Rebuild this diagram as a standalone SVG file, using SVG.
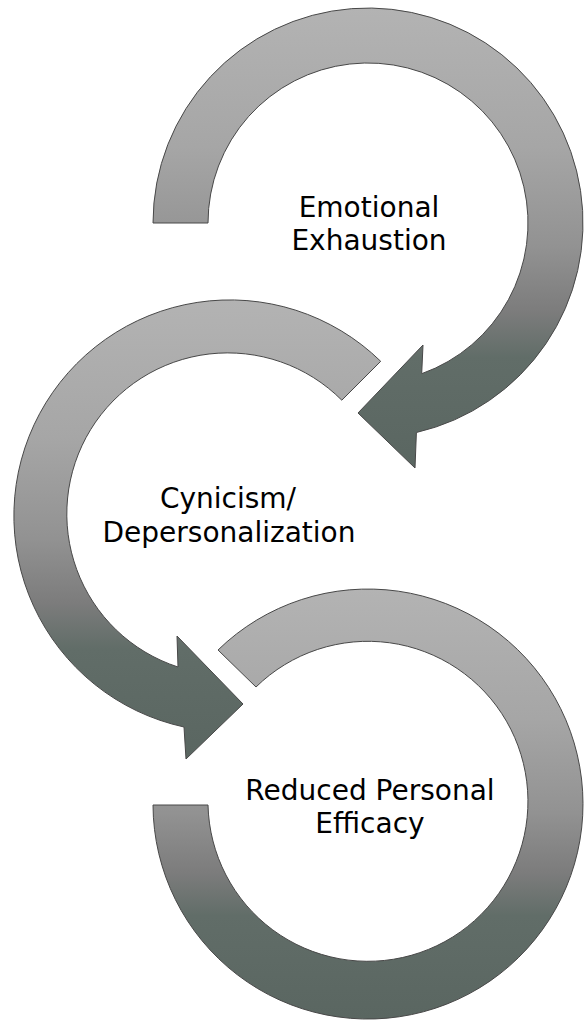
<svg xmlns="http://www.w3.org/2000/svg" width="584" height="1021" viewBox="0 0 584 1021">
  <defs>
    <linearGradient id="g" x1="0" y1="0" x2="0" y2="1">
      <stop offset="0" stop-color="#b3b3b3"/>
      <stop offset="0.3" stop-color="#a6a6a6"/>
      <stop offset="0.52" stop-color="#929292"/>
      <stop offset="0.66" stop-color="#7c7c7c"/>
      <stop offset="0.76" stop-color="#616d68"/>
      <stop offset="1" stop-color="#5a6661"/>
    </linearGradient>
  </defs>
  <style>
    .ring { fill: url(#g); stroke: #484848; stroke-width: 1; stroke-linejoin: miter; }
    .lbl { font-family: "DejaVu Sans", "Liberation Sans", sans-serif; font-size: 28px; fill: #000; text-anchor: middle; }
  </style>
  <g id="connectors"></g>
  <g id="node-emotional-exhaustion">
    <path class="ring" d="M 153,223 A 215 215 0 1 1 416.4,432.5 L 415,468 L 358,413 L 423,345 L 421.7,373.7 A 160 160 0 1 0 208,223 Z"/>
    <text class="lbl" x="369" y="217">Emotional</text>
    <text class="lbl" x="369" y="250">Exhaustion</text>
  </g>
  <g id="node-cynicism">
    <path class="ring" d="M 380.7,361.3 A 216 216 0 1 0 184,727 L 186,759 L 243,704 L 177,636 L 178,667 A 161 161 0 1 1 341.8,400.2 Z"/>
    <text class="lbl" x="228" y="508">Cynicism/</text>
    <text class="lbl" x="229" y="542">Depersonalization</text>
  </g>
  <g id="node-reduced-personal-efficacy">
    <path class="ring" d="M 218,650 A 215 215 0 1 1 153,805 L 208,805 A 160 160 0 1 0 256,687 Z"/>
    <text class="lbl" x="370" y="800">Reduced Personal</text>
    <text class="lbl" x="370" y="833">Efficacy</text>
  </g>
</svg>
